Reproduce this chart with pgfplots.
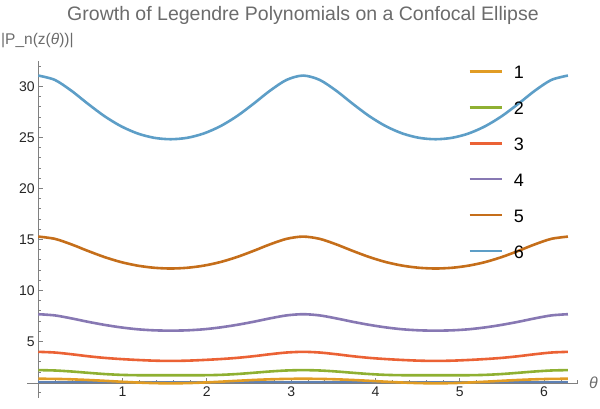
\documentclass[border=0pt]{standalone}
\usepackage{pgfplots}
\usepackage{pgfplotstable}
\pgfplotsset{compat=1.18}
\usepackage{fontspec}
\setmainfont{Liberation Sans}
\definecolor{c1}{HTML}{5E81B5}
\definecolor{c2}{HTML}{E19C24}
\definecolor{c3}{HTML}{8FB032}
\definecolor{c4}{HTML}{EB6235}
\definecolor{c5}{HTML}{8778B3}
\definecolor{c6}{HTML}{C56E1A}
\definecolor{c7}{HTML}{5D9EC7}
\definecolor{axgray}{gray}{0.5}
\definecolor{txtgray}{gray}{0.42}
\pgfplotstableread{
theta p0 p1 p2 p3 p4 p5 p6
0.00000 1 1.3374 2.1831 3.9747 7.6653 15.2738 31.0626
0.19635 1 1.3231 2.1471 3.9084 7.5473 15.0541 30.6364
0.39270 1 1.2815 2.0498 3.7412 7.2567 14.5131 29.5764
0.58905 1 1.2166 1.9207 3.5454 6.9211 13.8701 28.2918
0.78540 1 1.1352 1.7991 3.3829 6.6204 13.2682 27.0805
0.98175 1 1.0476 1.7174 3.2669 6.3714 12.7760 26.0953
1.17810 1 0.9670 1.6836 3.1782 6.1870 12.4269 25.3848
1.37445 1 0.9093 1.6805 3.1105 6.0843 12.2177 24.9594
1.57080 1 0.8881 1.6831 3.0834 6.0544 12.1453 24.8200
1.76715 1 0.9093 1.6805 3.1105 6.0843 12.2177 24.9594
1.96350 1 0.9670 1.6836 3.1782 6.1870 12.4269 25.3848
2.15984 1 1.0476 1.7174 3.2669 6.3714 12.7760 26.0953
2.35619 1 1.1352 1.7991 3.3829 6.6204 13.2682 27.0805
2.55254 1 1.2166 1.9207 3.5454 6.9211 13.8701 28.2918
2.74889 1 1.2815 2.0498 3.7412 7.2567 14.5131 29.5764
2.94524 1 1.3231 2.1471 3.9084 7.5473 15.0541 30.6364
3.14159 1 1.3374 2.1831 3.9747 7.6653 15.2738 31.0626
3.33794 1 1.3231 2.1471 3.9084 7.5473 15.0541 30.6364
3.53429 1 1.2815 2.0498 3.7412 7.2567 14.5131 29.5764
3.73064 1 1.2166 1.9207 3.5454 6.9211 13.8701 28.2918
3.92699 1 1.1352 1.7991 3.3829 6.6204 13.2682 27.0805
4.12334 1 1.0476 1.7174 3.2669 6.3714 12.7760 26.0953
4.31969 1 0.9670 1.6836 3.1782 6.1870 12.4269 25.3848
4.51604 1 0.9093 1.6805 3.1105 6.0843 12.2177 24.9594
4.71239 1 0.8881 1.6831 3.0834 6.0544 12.1453 24.8200
4.90874 1 0.9093 1.6805 3.1105 6.0843 12.2177 24.9594
5.10509 1 0.9670 1.6836 3.1782 6.1870 12.4269 25.3848
5.30144 1 1.0476 1.7174 3.2669 6.3714 12.7760 26.0953
5.49779 1 1.1352 1.7991 3.3829 6.6204 13.2682 27.0805
5.69414 1 1.2166 1.9207 3.5454 6.9211 13.8701 28.2918
5.89049 1 1.2815 2.0498 3.7412 7.2567 14.5131 29.5764
6.08684 1 1.3231 2.1471 3.9084 7.5473 15.0541 30.6364
6.28319 1 1.3374 2.1831 3.9747 7.6653 15.2738 31.0626
}\datatable
\begin{document}
\begin{tikzpicture}
\useasboundingbox (0,0) rectangle (600pt,409pt);
\begin{axis}[
  scale only axis,
  width=550.5pt, height=337.1pt,
  at={(27.3pt,11pt)}, anchor=south west,
  xmin=-0.13, xmax=6.40, ymin=-0.55, ymax=32.5,
  enlargelimits=false, clip=false,
  axis y line=middle, axis x line=bottom,
  axis x line shift=-14.67pt,
  axis line style={-, draw=axgray, line width=0.8pt},
  tick style={draw=axgray, line width=0.8pt},
  tick align=inside,
  major tick length=5pt, minor tick length=3pt,
  xtick={1,2,3,4,5,6},
  minor xtick={0.2,0.4,0.6,0.8,1.2,1.4,1.6,1.8,2.2,2.4,2.6,2.8,3.2,3.4,3.6,3.8,4.2,4.4,4.6,4.8,5.2,5.4,5.6,5.8,6.2,6.4},
  ytick={5,10,15,20,25,30},
  minor ytick={0,1,2,3,4,6,7,8,9,11,12,13,14,16,17,18,19,21,22,23,24,26,27,28,29,31,32},
  /pgf/number format/assume math mode=true,
  ticklabel style={font=\fontsize{14}{14}\selectfont, text=black!85},
  legend cell align=left,
  legend style={at={(0.8006,0.9855)}, anchor=north west, draw=none, fill=none,
    inner sep=0pt, row sep=23.0pt, font=\fontsize{18}{18}\selectfont,
    nodes={inner sep=0pt, text height=12.9pt, text depth=0pt}},
  legend image code/.code={\draw[#1] (0pt,1pt) -- (32pt,1pt); \path (43pt,0pt);},
  every axis plot/.append style={line width=2.6pt, smooth},
]
\addplot[c1, forget plot] table[x=theta, y=p0] {\datatable};
\addplot[c2] table[x=theta, y=p1] {\datatable};
\addplot[c3] table[x=theta, y=p2] {\datatable};
\addplot[c4] table[x=theta, y=p3] {\datatable};
\addplot[c5] table[x=theta, y=p4] {\datatable};
\addplot[c6] table[x=theta, y=p5] {\datatable};
\addplot[c7] table[x=theta, y=p6] {\datatable};
\legend{1,2,3,4,5,6}
\end{axis}
\node[anchor=base, text=txtgray, font=\fontsize{19.5}{19.5}\selectfont] at (303pt,388pt) {Growth of Legendre Polynomials on a Confocal Ellipse};
\node[anchor=base west, inner sep=0pt, text=txtgray, font=\fontsize{15.5}{15.5}\selectfont] at (1pt,364pt) {|P\_n(z(\textit{θ}))|};
\node[anchor=west, inner sep=0pt, text=txtgray, font=\fontsize{16}{16}\selectfont] at (589pt,26pt) {\textit{θ}};
\end{tikzpicture}
\end{document}
